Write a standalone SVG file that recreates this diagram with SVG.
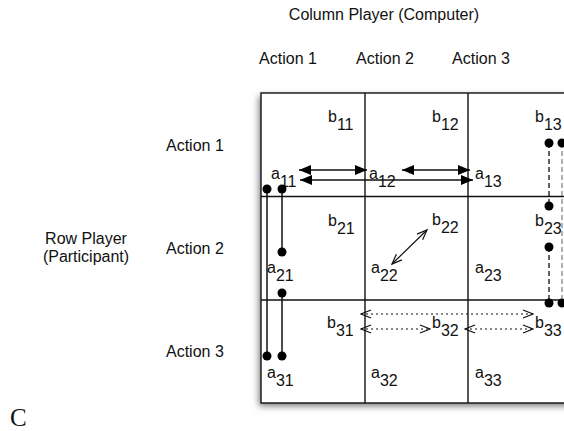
<svg xmlns="http://www.w3.org/2000/svg" width="564" height="431" viewBox="0 0 564 431">
<defs>
<style>
text{font-family:"Liberation Sans",Arial,sans-serif;font-size:16px;fill:#111}
.grid{stroke:#111;stroke-width:1.4;fill:none}
.solid{stroke:#111;stroke-width:1.5;fill:none}
.dash{stroke:#111;stroke-width:1.3;stroke-dasharray:5 3;fill:none}
.dot{stroke:#111;stroke-width:1.2;stroke-dasharray:2 3;fill:none}
.thin{stroke:#111;stroke-width:1.2;fill:none}
.pt{fill:#000}
</style>
<marker id="tri" viewBox="0 0 12 10" refX="12" refY="5" markerWidth="12" markerHeight="10" markerUnits="userSpaceOnUse" orient="auto-start-reverse">
<path d="M0,0 L12,5 L0,10 Z" fill="#000"/>
</marker>
<marker id="vee" viewBox="0 0 12 10" refX="11" refY="5" markerWidth="12" markerHeight="10" markerUnits="userSpaceOnUse" orient="auto-start-reverse">
<path d="M1,1 L11,5 L1,9" fill="none" stroke="#111" stroke-width="1.2"/>
</marker>
<filter id="sh" x="-10%" y="-10%" width="120%" height="125%">
<feGaussianBlur stdDeviation="3.5"/>
</filter>
</defs>
<rect width="564" height="431" fill="#fff"/>

<g id="headers">
<text x="384" y="20" text-anchor="middle">Column Player (Computer)</text>
<text x="288" y="64" text-anchor="middle">Action 1</text>
<text x="385" y="64" text-anchor="middle">Action 2</text>
<text x="481" y="64" text-anchor="middle">Action 3</text>
<text x="166" y="151">Action 1</text>
<text x="166" y="254">Action 2</text>
<text x="166" y="357">Action 3</text>
<text x="86" y="244" text-anchor="middle">Row Player</text>
<text x="86" y="262" text-anchor="middle">(Participant)</text>
<text x="10" y="426" style="font-family:'Liberation Serif','Times New Roman',serif;font-size:25px">C</text>
</g>

<g id="matrix">
<rect x="259" y="96" width="314" height="310" fill="#777" filter="url(#sh)"/>
<rect x="261" y="93" width="310" height="310" class="grid" style="fill:#fff"/>
<line class="grid" x1="365" y1="93" x2="365" y2="403"/>
<line class="grid" x1="468" y1="93" x2="468" y2="403"/>
<line class="grid" x1="261" y1="196.5" x2="571" y2="196.5"/>
<line class="grid" x1="261" y1="300" x2="571" y2="300"/>
</g>

<g id="cells">
<text x="328" y="122">b<tspan dy="8">11</tspan></text>
<text x="432" y="122">b<tspan dy="8">12</tspan></text>
<text x="535" y="122">b<tspan dy="8">13</tspan></text>
<text x="271" y="179">a<tspan dy="8">11</tspan></text>
<text x="369" y="179">a<tspan dy="8">12</tspan></text>
<text x="475" y="179">a<tspan dy="8">13</tspan></text>
<text x="328" y="226">b<tspan dy="8">21</tspan></text>
<text x="432" y="225">b<tspan dy="8">22</tspan></text>
<text x="535" y="226">b<tspan dy="8">23</tspan></text>
<text x="267" y="273">a<tspan dy="8">21</tspan></text>
<text x="371" y="273">a<tspan dy="8">22</tspan></text>
<text x="475" y="273">a<tspan dy="8">23</tspan></text>
<text x="327" y="328">b<tspan dy="8">31</tspan></text>
<text x="432" y="328">b<tspan dy="8">32</tspan></text>
<text x="535" y="328">b<tspan dy="8">33</tspan></text>
<text x="267" y="378">a<tspan dy="8">31</tspan></text>
<text x="371" y="378">a<tspan dy="8">32</tspan></text>
<text x="475" y="378">a<tspan dy="8">33</tspan></text>
</g>

<g id="connectors">
<line class="solid" x1="299" y1="170" x2="367" y2="170" marker-start="url(#tri)" marker-end="url(#tri)"/>
<line class="solid" x1="402" y1="170" x2="470" y2="170" marker-start="url(#tri)" marker-end="url(#tri)"/>
<line class="solid" x1="300" y1="180" x2="473" y2="180" marker-start="url(#tri)" marker-end="url(#tri)"/>

<line class="thin" x1="392" y1="264" x2="427" y2="230" marker-start="url(#vee)" marker-end="url(#vee)"/>

<line class="dot" x1="361" y1="314" x2="533" y2="314" marker-start="url(#vee)" marker-end="url(#vee)"/>
<line class="dot" x1="361" y1="329" x2="430" y2="329" marker-start="url(#vee)" marker-end="url(#vee)"/>
<line class="dot" x1="465" y1="329" x2="533" y2="329" marker-start="url(#vee)" marker-end="url(#vee)"/>

<line class="solid" x1="267" y1="189" x2="267" y2="356"/>
<line class="solid" x1="282" y1="189" x2="282" y2="252"/>
<line class="solid" x1="282" y1="293" x2="282" y2="356"/>
<circle class="pt" cx="267" cy="189" r="4.5"/>
<circle class="pt" cx="282" cy="189" r="4.5"/>
<circle class="pt" cx="282" cy="252" r="4.5"/>
<circle class="pt" cx="282" cy="293" r="4.5"/>
<circle class="pt" cx="267" cy="356" r="4.5"/>
<circle class="pt" cx="282" cy="356" r="4.5"/>

<line class="dash" x1="549" y1="143" x2="549" y2="206"/>
<line class="dash" x1="549" y1="247" x2="549" y2="303"/>
<line class="dash" x1="562" y1="143" x2="562" y2="303" style="stroke:#888"/>
<circle class="pt" cx="549" cy="143" r="4.5"/>
<circle class="pt" cx="562" cy="143" r="4.5"/>
<circle class="pt" cx="549" cy="206" r="4.5"/>
<circle class="pt" cx="549" cy="247" r="4.5"/>
<circle class="pt" cx="549" cy="303" r="4.5"/>
<circle class="pt" cx="562" cy="303" r="4.5"/>
</g>
</svg>
